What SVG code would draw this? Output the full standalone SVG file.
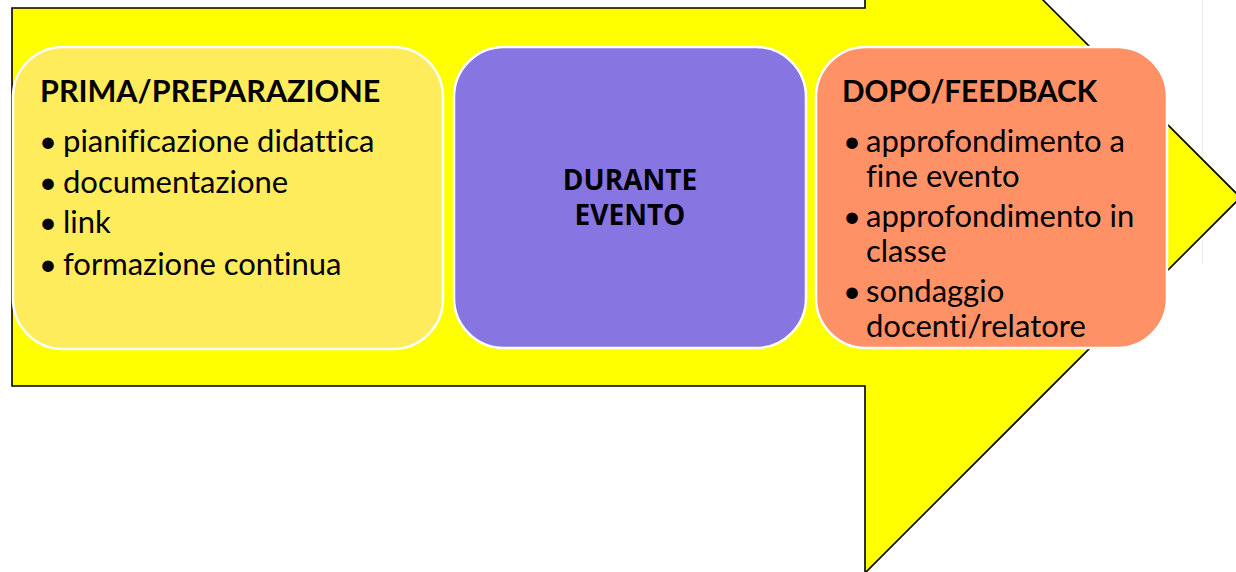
<svg xmlns="http://www.w3.org/2000/svg" width="1236" height="572" viewBox="0 0 1236 572">
<style>
.head{font-family:Lato,"Liberation Sans",sans-serif;font-weight:bold;font-size:30.5px;fill:#000}
.body{font-family:Lato,"Liberation Sans",sans-serif;font-size:31px;fill:#000;font-variant-ligatures:none}
.mid{font-family:"Open Sans","Liberation Sans",sans-serif;font-weight:bold;font-size:28px;fill:#000}
.box{stroke:#fff;stroke-width:2.5}
</style>
<rect width="1236" height="572" fill="#fff"/>
<line x1="1202.5" y1="0" x2="1202.5" y2="264" stroke="#eeeeee" stroke-width="1"/>
<g id="arrow">
<polygon points="12,8 865,8 865,-178 1240.5,197.5 865,573 865,386 12,386" fill="#ffff00" stroke="#000" stroke-width="1.6"/>
</g>
<g id="connectors"></g>
<g id="prima">
<rect class="box" x="13" y="47" width="430" height="302" rx="50" fill="#ffec5c"/>
<text class="head" x="40" y="102">PRIMA/PREPARAZIONE</text>
<text class="body" y="152"><tspan x="39">•</tspan><tspan x="63">pianificazione didattica</tspan></text>
<text class="body" y="193"><tspan x="39">•</tspan><tspan x="63">documentazione</tspan></text>
<text class="body" y="233"><tspan x="39">•</tspan><tspan x="63">link</tspan></text>
<text class="body" y="275"><tspan x="39">•</tspan><tspan x="63">formazione continua</tspan></text>
</g>
<g id="durante">
<rect class="box" x="454" y="47" width="352" height="301" rx="50" fill="#8775e2"/>
<text class="mid" x="630" y="190" text-anchor="middle">DURANTE</text>
<text class="mid" x="630" y="225" text-anchor="middle">EVENTO</text>
</g>
<g id="dopo">
<rect class="box" x="816" y="47" width="351" height="301" rx="50" fill="#ff9166"/>
<text class="head" x="842" y="102" textLength="255" lengthAdjust="spacingAndGlyphs">DOPO/FEEDBACK</text>
<text class="body" y="152"><tspan x="843">•</tspan><tspan x="866">approfondimento a</tspan></text>
<text class="body" x="866" y="187">fine evento</text>
<text class="body" y="227"><tspan x="843">•</tspan><tspan x="866">approfondimento in</tspan></text>
<text class="body" x="866" y="262">classe</text>
<text class="body" y="302"><tspan x="843">•</tspan><tspan x="866">sondaggio</tspan></text>
<text class="body" x="866" y="337">docenti/relatore</text>
</g>
</svg>
